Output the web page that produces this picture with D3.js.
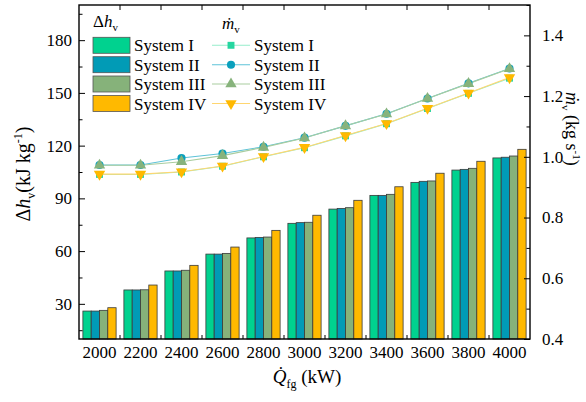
<!DOCTYPE html>
<html>
<head>
<meta charset="utf-8">
<script src="https://cdn.jsdelivr.net/npm/d3@7"></script>
<style>
  body { margin: 0; background: #fff; }
  svg { display: block; }
  text { font-family: "Liberation Serif", "Times New Roman", serif; fill: #000; }
</style>
</head>
<body>
<svg id="chart" width="586" height="402"></svg>
<script>
// Flue-gas heat load categories (kW)
const heatLoads = ["2000", "2200", "2400", "2600", "2800", "3000", "3200", "3400", "3600", "3800", "4000"];
const systems = ["System I", "System II", "System III", "System IV"];

// Specific enthalpy rise, Δh_v (kJ kg^-1) — bars
const dhSystemI   = [25.9, 37.9, 48.7, 58.3, 67.5, 75.8, 83.9, 91.7, 99.1, 106.1, 113.0];
const dhSystemII  = [25.9, 37.9, 48.7, 58.3, 67.8, 76.2, 84.3, 91.7, 99.7, 106.5, 113.4];
const dhSystemIII = [26.3, 38.0, 49.1, 58.7, 68.0, 76.4, 84.7, 92.3, 99.9, 107.1, 114.1];
const dhSystemIV  = [27.8, 40.7, 51.9, 62.3, 71.8, 80.4, 88.9, 96.6, 104.3, 111.1, 117.9];

// Vapour mass flow rate, ṁ_v (kg s^-1) — lines
const mSystemI   = [0.942, 0.942, 0.950, 0.969, 1.000, 1.030, 1.069, 1.109, 1.159, 1.209, 1.259];
const mSystemII  = [0.973, 0.973, 0.996, 1.011, 1.033, 1.063, 1.102, 1.142, 1.192, 1.242, 1.291];
const mSystemIII = [0.972, 0.972, 0.984, 1.004, 1.031, 1.062, 1.102, 1.141, 1.192, 1.241, 1.290];
const mSystemIV  = [0.943, 0.943, 0.951, 0.970, 1.001, 1.031, 1.070, 1.110, 1.160, 1.210, 1.261];

// Axis ticks
const leftTicks  = [30, 60, 90, 120, 150, 180];
const leftMinor  = [15, 45, 75, 105, 135, 165, 195];
const rightTicks = [0.4, 0.6, 0.8, 1.0, 1.2, 1.4];
const rightMinor = [0.5, 0.7, 0.9, 1.1, 1.3, 1.5];

const barFill    = ["#00d28f", "#019bb6", "#86b27a", "#ffb900"];
const lineStroke = ["#96edcb", "#5ec3d8", "#a9cd9f", "#ffd670"];
const markFill   = ["#25d6a0", "#0aa0bd", "#87b37c", "#ffb900"];
const markShape  = [d3.symbolSquare, d3.symbolCircle, d3.symbolTriangle, d3.symbolTriangle];
const markSize   = [48, 52, 56, 56];

const dhSeries = [dhSystemI, dhSystemII, dhSystemIII, dhSystemIV];
const mSeries  = [mSystemI, mSystemII, mSystemIII, mSystemIV];

const FONT = "'Liberation Serif', 'Times New Roman', serif";
const svg = d3.select("#chart");
const L = 79, R = 530, T = 5, B = 339;
const FS = 17, TS = 19;

const x  = d3.scaleBand().domain(heatLoads).range([L, R]).paddingInner(0).paddingOuter(0);
const xs = d3.scaleBand().domain(d3.range(4)).range([0, x.bandwidth() * 0.81]);
const yL = d3.scaleLinear().domain([10, 200]).range([B, T]);
const yR = d3.scaleLinear().domain([0.4, 1.5]).range([B, T]);
const groupOff = (x.bandwidth() - x.bandwidth() * 0.81) / 2;

// Bars
const barG = svg.append("g");
heatLoads.forEach((c, i) => {
  dhSeries.forEach((s, k) => {
    barG.append("rect")
      .attr("x", x(c) + groupOff + xs(k))
      .attr("y", yL(s[i]))
      .attr("width", xs.bandwidth())
      .attr("height", yL(10) - yL(s[i]))
      .attr("fill", barFill[k])
      .attr("stroke", "#3a3a3a")
      .attr("stroke-width", 0.8);
  });
});

// Lines and markers
const line = d3.line().x((d, i) => x(heatLoads[i]) + x.bandwidth() / 2).y(d => yR(d));
mSeries.forEach((s, k) => {
  svg.append("path").datum(s)
    .attr("d", line).attr("fill", "none")
    .attr("stroke", lineStroke[k]).attr("stroke-width", 1.1);
});
mSeries.forEach((s, k) => {
  svg.append("g").selectAll("path").data(s).join("path")
    .attr("d", d3.symbol().type(markShape[k]).size(markSize[k]))
    .attr("transform", (d, i) => `translate(${x(heatLoads[i]) + x.bandwidth() / 2},${yR(d)})` + (k === 3 ? " rotate(180)" : ""))
    .attr("fill", markFill[k]);
});

// Axes
function styleAxis(g) {
  g.attr("font-family", null);
  g.select(".domain").remove();
  g.selectAll("line").attr("stroke", "#000").attr("stroke-width", 1);
  g.selectAll("text").attr("font-size", FS).style("font-family", FONT).style("fill", "#000");
}
svg.append("g").attr("transform", `translate(${L},0)`)
  .call(d3.axisLeft(yL).tickValues(leftTicks).tickSize(-6).tickPadding(7)).call(styleAxis);
svg.append("g").attr("transform", `translate(${L},0)`)
  .call(d3.axisLeft(yL).tickValues(leftMinor).tickSize(-3.5).tickFormat("")).call(styleAxis);
svg.append("g").attr("transform", `translate(${R},0)`)
  .call(d3.axisRight(yR).tickValues(rightTicks).tickSize(-6).tickPadding(12).tickFormat(d3.format(".1f"))).call(styleAxis);
svg.append("g").attr("transform", `translate(${R},0)`)
  .call(d3.axisRight(yR).tickValues(rightMinor).tickSize(-3.5).tickFormat("")).call(styleAxis);
svg.append("g").attr("transform", `translate(0,${B})`)
  .call(d3.axisBottom(x).tickSize(0).tickPadding(7)).call(styleAxis);

// Category boundary ticks on bottom and top
const bounds = heatLoads.slice(1).map(c => x(c));
svg.append("g").selectAll("line").data(bounds).join("line")
  .attr("x1", d => d).attr("x2", d => d).attr("y1", B).attr("y2", B - 4)
  .attr("stroke", "#000");
svg.append("g").selectAll("line").data(bounds).join("line")
  .attr("x1", d => d).attr("x2", d => d).attr("y1", T).attr("y2", T + 5)
  .attr("stroke", "#000");

// Frame
svg.append("rect").attr("x", L).attr("y", T).attr("width", R - L).attr("height", B - T)
  .attr("fill", "none").attr("stroke", "#000").attr("stroke-width", 1.4);

// Axis titles
const xt = svg.append("text").attr("x", 307).attr("y", 383).attr("text-anchor", "middle").attr("font-size", TS).style("font-family", FONT);
xt.append("tspan").attr("font-style", "italic").text("Q\u0307");
xt.append("tspan").attr("font-size", 12).attr("dy", 5).text("fg");
xt.append("tspan").attr("dy", -5).text(" (kW)");

const yt = svg.append("text").attr("transform", "translate(30,174) rotate(-90)").attr("text-anchor", "middle").attr("font-size", 20).style("font-family", FONT);
yt.append("tspan").text("\u0394");
yt.append("tspan").attr("font-style", "italic").text("h");
yt.append("tspan").attr("font-size", 12).attr("dy", 5).text("v");
yt.append("tspan").attr("dy", -5).text("(kJ kg");
yt.append("tspan").attr("font-size", 12).attr("dy", -8).text("-1");
yt.append("tspan").attr("dy", 8).text(")");

const rt = svg.append("text").attr("transform", "translate(566,92) rotate(90)").attr("text-anchor", "start").attr("font-size", 18).style("font-family", FONT);
rt.append("tspan").attr("font-style", "italic").text("m\u0307");
rt.append("tspan").attr("font-size", 11).attr("dy", 4).text("v");
rt.append("tspan").attr("dy", -4).text(" (kg s");
rt.append("tspan").attr("font-size", 11).attr("dy", -7).text("-1");
rt.append("tspan").attr("dy", 7).text(")");

// Legend
const lg = svg.append("g").style("font-family", FONT);
const rowY = [45.3, 64.7, 84, 103.5];
const h1 = lg.append("text").attr("x", 93).attr("y", 27).attr("font-size", FS).style("font-family", FONT);
h1.append("tspan").text("\u0394");
h1.append("tspan").attr("font-style", "italic").text("h");
h1.append("tspan").attr("font-size", 11).attr("dy", 4).text("v");
const h2 = lg.append("text").attr("x", 222).attr("y", 29).attr("font-size", FS).style("font-family", FONT);
h2.append("tspan").attr("font-style", "italic").text("m\u0307");
h2.append("tspan").attr("font-size", 11).attr("dy", 4).text("v");

systems.forEach((name, k) => {
  const cy = rowY[k];
  lg.append("rect").attr("x", 93).attr("y", cy - 8).attr("width", 37).attr("height", 16)
    .attr("fill", barFill[k]).attr("stroke", "#555").attr("stroke-width", 0.8);
  lg.append("text").attr("x", 134).attr("y", cy + 6).attr("font-size", FS).style("font-family", FONT).text(name);
  lg.append("line").attr("x1", 212).attr("x2", 250).attr("y1", cy).attr("y2", cy)
    .attr("stroke", lineStroke[k]).attr("stroke-width", 1.1);
  lg.append("path").attr("d", d3.symbol().type(markShape[k]).size(markSize[k])())
    .attr("transform", `translate(231,${cy})` + (k === 3 ? " rotate(180)" : ""))
    .attr("fill", markFill[k]);
  lg.append("text").attr("x", 254).attr("y", cy + 6).attr("font-size", FS).style("font-family", FONT).text(name);
});
</script>
</body>
</html>
